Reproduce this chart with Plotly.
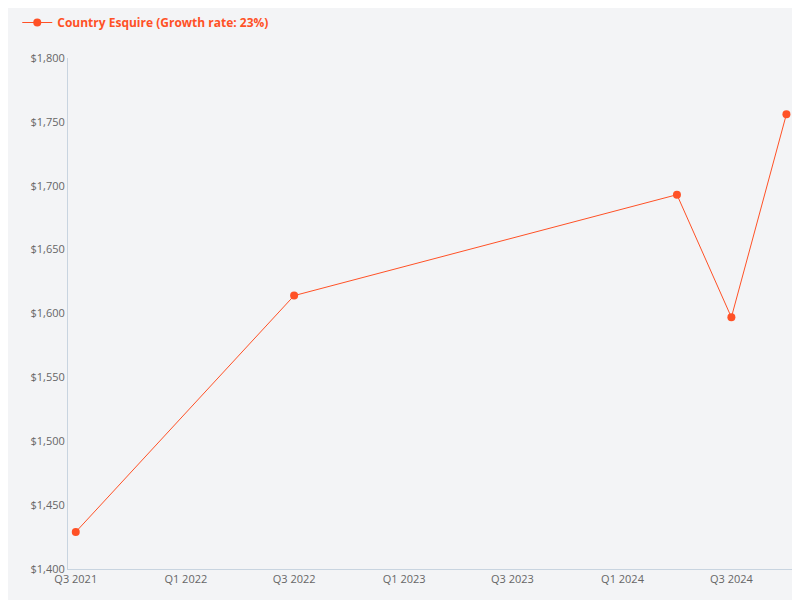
import plotly.graph_objects as go

dates = ['2021-07-01', '2022-07-01', '2024-04-01', '2024-07-01', '2024-10-01']
prices = [1429, 1614, 1693, 1597, 1756]
tick_dates = ['2021-07-01', '2022-01-01', '2022-07-01', '2023-01-01', '2023-07-01', '2024-01-01', '2024-07-01']
tick_labels = ['Q3 2021', 'Q1 2022', 'Q3 2022', 'Q1 2023', 'Q3 2023', 'Q1 2024', 'Q3 2024']
y_ticks = [1400, 1450, 1500, 1550, 1600, 1650, 1700, 1750, 1800]

color = '#ff5126'

fig = go.Figure()
fig.add_trace(go.Scatter(x=dates, y=prices, mode='lines+markers',
                         name='<b>Country Esquire (Growth rate: 23%)</b>',
                         line=dict(color=color, width=1), marker=dict(color=color, size=8)))

fig.update_layout(
    width=800, height=600,
    paper_bgcolor='#f3f4f6', plot_bgcolor='#f3f4f6',
    font=dict(family='Open Sans', size=11, color='#666'),
    margin=dict(l=60, r=15, t=50, b=39),
    showlegend=True,
    legend=dict(x=-0.07, y=1, yref='container', xanchor='left', yanchor='top',
                orientation='h', font=dict(color=color, size=12), bgcolor='rgba(0,0,0,0)'),
    xaxis=dict(range=['2021-06-18', '2024-10-12'], tickvals=tick_dates, ticktext=tick_labels,
               showgrid=False, showline=True, linecolor='#c8d4e0', zeroline=False, ticks=''),
    yaxis=dict(range=[1400, 1800], tickvals=y_ticks, tickformat='$,.0f',
               showgrid=False, showline=True, linecolor='#c8d4e0', zeroline=False, ticks=''),
)

fig.write_html('out.html')
